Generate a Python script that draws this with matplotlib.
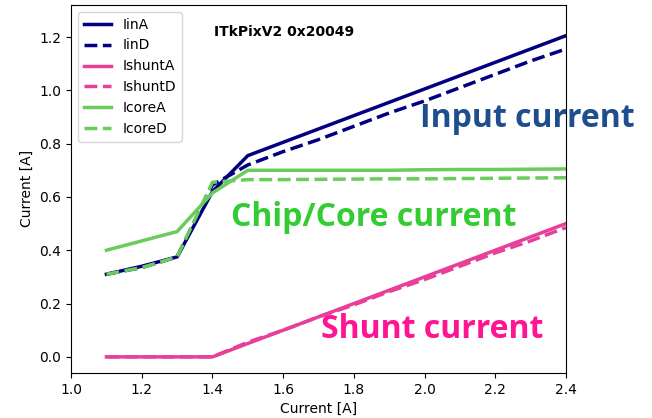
import matplotlib
matplotlib.use("Agg")
from matplotlib import pyplot as plt

# supply current scan, ITkPixV2 chip 0x20049
current = [1.1, 1.2, 1.3, 1.4, 1.5, 1.6, 1.7, 1.8, 1.9, 2.0, 2.1, 2.2, 2.3, 2.4]

IinA = [0.31, 0.34, 0.375, 0.62, 0.755, 0.805, 0.855, 0.905, 0.955, 1.005, 1.055, 1.105, 1.155, 1.205]
IinD = [0.31, 0.335, 0.375, 0.645, 0.72, 0.77, 0.815, 0.865, 0.915, 0.96, 1.01, 1.06, 1.11, 1.155]
IshuntA = [0.0, 0.0, 0.0, 0.0, 0.05, 0.10, 0.15, 0.20, 0.25, 0.30, 0.35, 0.40, 0.45, 0.50]
IshuntD = [0.0, 0.0, 0.0, 0.0, 0.055, 0.10, 0.15, 0.195, 0.245, 0.29, 0.34, 0.39, 0.435, 0.485]
IcoreA = [0.40, 0.435, 0.47, 0.615, 0.70, 0.70, 0.70, 0.70, 0.70, 0.702, 0.703, 0.703, 0.704, 0.705]
IcoreD = [0.31, 0.335, 0.375, 0.655, 0.665, 0.665, 0.666, 0.667, 0.668, 0.668, 0.669, 0.67, 0.671, 0.672]

navy = '#000080'
pink = '#e8409a'
green = '#6acc5a'

fig = plt.figure(figsize=(6.52, 4.18), dpi=100)
ax = fig.add_axes([0.109, 0.108, 0.759, 0.880])

ax.plot(current, IinA, color=navy, lw=2.5, label='IinA')
ax.plot(current, IinD, color=navy, lw=2.5, ls='--', label='IinD')
ax.plot(current, IshuntA, color=pink, lw=2.5, label='IshuntA')
ax.plot(current, IshuntD, color=pink, lw=2.5, ls='--', label='IshuntD')
ax.plot(current, IcoreA, color=green, lw=2.5, label='IcoreA')
ax.plot(current, IcoreD, color=green, lw=2.5, ls='--', label='IcoreD')

ax.set_xlim(1.0, 2.4)
ax.set_ylim(-0.06, 1.32)
ax.set_xlabel('Current [A]')
ax.set_ylabel('Current [A]')
ax.legend(loc='upper left')

ax.text(1.404, 1.219, 'ITkPixV2 0x20049', fontweight='bold', fontsize=10, va='center')

# overlay labels
ax.text(1.988, 0.896, 'Input current', color='#1f4e8c', family='Open Sans',
        fontweight='bold', fontsize=23, va='center', clip_on=False)
ax.text(1.452, 0.521, 'Chip/Core current', color='#33cc33', family='Open Sans',
        fontweight='bold', fontsize=23, va='center', clip_on=False)
ax.text(1.706, 0.101, 'Shunt current', color='#ff1493', family='Open Sans',
        fontweight='bold', fontsize=23, va='center', clip_on=False)

fig.savefig('out.png', dpi=100)
